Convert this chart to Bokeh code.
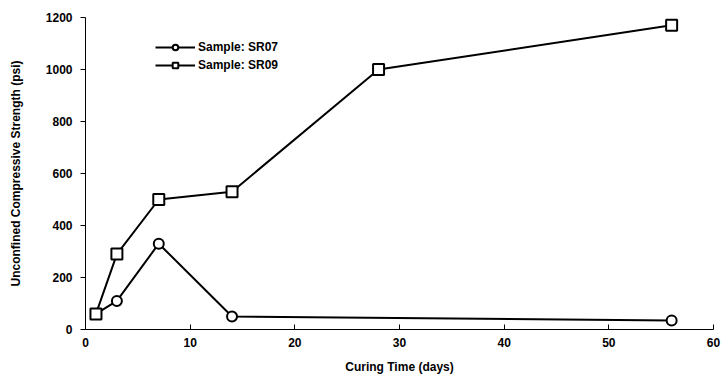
from bokeh.plotting import figure
from bokeh.models import Legend, LegendItem, FixedTicker, Range1d
from bokeh.embed import file_html
from bokeh.resources import INLINE

days_sr07 = [1, 3, 7, 14, 56]
ucs_sr07 = [60, 110, 330, 50, 35]
days_sr09 = [1, 3, 7, 14, 28, 56]
ucs_sr09 = [60, 290, 500, 530, 1000, 1170]
x_ticks = [0, 10, 20, 30, 40, 50, 60]
y_ticks = [0, 200, 400, 600, 800, 1000, 1200]

FONT = "Liberation Sans"

p = figure(width=722, height=379, output_backend="svg", toolbar_location=None,
           x_range=Range1d(0, 60), y_range=Range1d(0, 1200),
           min_border_left=85, min_border_right=9, min_border_top=17, min_border_bottom=50)
p.outline_line_color = None
p.xgrid.grid_line_color = None
p.ygrid.grid_line_color = None
p.background_fill_color = "white"
p.border_fill_color = "white"

l1 = p.line(days_sr07, ucs_sr07, line_color="black", line_width=2)
m1 = p.scatter(days_sr07, ucs_sr07, marker="circle", size=10, fill_color="white",
               line_color="black", line_width=2)
l2 = p.line(days_sr09, ucs_sr09, line_color="black", line_width=2)
m2 = p.scatter(days_sr09, ucs_sr09, marker="square", size=11, fill_color="white",
               line_color="black", line_width=2)

for ax in (p.xaxis, p.yaxis):
    ax.axis_line_color = "black"
    ax.axis_line_width = 1
    ax.major_tick_line_color = "black"
    ax.minor_tick_line_color = None
    ax.major_label_text_font = FONT
    ax.major_label_text_font_style = "bold"
    ax.major_label_text_font_size = "12px"
    ax.major_label_text_color = "black"
    ax.axis_label_text_font = FONT
    ax.axis_label_text_font_style = "bold"
    ax.axis_label_text_font_size = "12px"
    ax.axis_label_text_color = "black"

p.xaxis.ticker = FixedTicker(ticks=x_ticks)
p.yaxis.ticker = FixedTicker(ticks=y_ticks)
p.xaxis.major_tick_in = 5
p.xaxis.major_tick_out = 0
p.yaxis.major_tick_in = 0
p.yaxis.major_tick_out = 5
p.xaxis.major_label_standoff = 8
p.yaxis.major_label_standoff = 8
p.xaxis.axis_label = "Curing Time (days)"
p.yaxis.axis_label = "Unconfined Compressive Strength (psi)"
p.xaxis.axis_label_standoff = 10
p.yaxis.axis_label_standoff = 20

legend = Legend(items=[LegendItem(label="Sample: SR07", renderers=[l1, m1]),
                       LegendItem(label="Sample: SR09", renderers=[l2, m2])],
                location=(70, 257))
legend.border_line_color = None
legend.background_fill_alpha = 0
legend.label_text_font = FONT
legend.label_text_font_style = "bold"
legend.label_text_font_size = "12px"
legend.label_text_color = "black"
legend.glyph_width = 40
legend.glyph_height = 14
legend.spacing = 4
legend.padding = 4
legend.label_standoff = 3
p.add_layout(legend)

open("out.html", "w").write(file_html(p, INLINE))
